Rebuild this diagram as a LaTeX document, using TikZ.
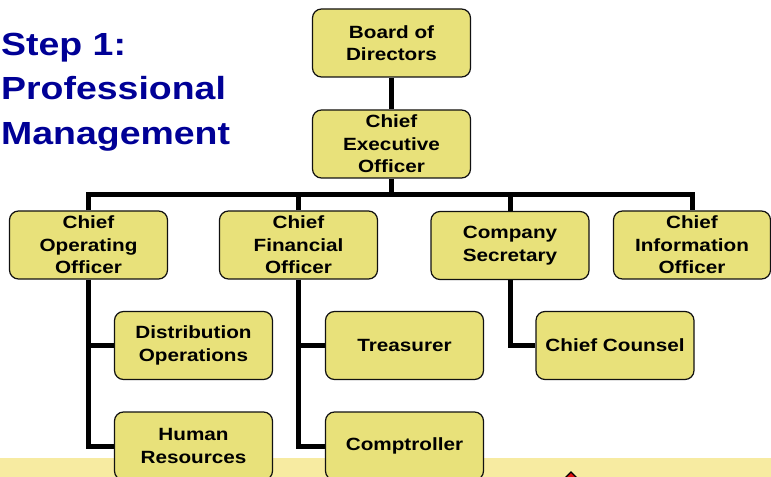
\documentclass[tikz,border=0pt]{standalone}
\usepackage{fontspec}
\setmainfont{Liberation Sans}[FakeStretch=1.17]
\usepackage{tikz}
\usetikzlibrary{calc,backgrounds}
\definecolor{Navy}{HTML}{000096}
\definecolor{Post}{HTML}{E8E17A}
\definecolor{Band}{HTML}{F7EBA1}
\definecolor{Ink}{HTML}{111111}
\definecolor{Alarm}{HTML}{E01010}

\begin{document}
\begin{tikzpicture}[x=1bp,y=-1bp,
  post/.style={draw=Ink,line width=1.2bp,fill=Post,rounded corners=9bp,
    minimum width=158bp,minimum height=68bp,inner sep=0pt,align=center,
    font=\bfseries\fontsize{17.7bp}{22.5bp}\selectfont},
  link/.style={line width=5bp,black}]
\useasboundingbox (0,0) rectangle (771,477);
\clip (0,0) rectangle (771,477);

\node[anchor=north west,inner sep=0pt,align=left,Navy,
  font=\bfseries\fontsize{32bp}{44.5bp}\selectfont] (heading) at (1,32.5)
  {Step 1:\\Professional\\Management};

% Posts.
\node[post] (board) at (391.5,43) {Board of\\Directors};
\node[post] (ceo) at (391.5,144) {Chief\\Executive\\Officer};
\node[post] (coo) at (88.5,245) {Chief\\Operating\\Officer};
\node[post] (cfo) at (298.5,245) {Chief\\Financial\\Officer};
\node[post] (sec) at (510,245.5) {Company\\Secretary};
\node[post,minimum width=157bp] (cio) at (692,245) {Chief\\Information\\Officer};
\node[post] (dist) at (193.5,345.5) {Distribution\\Operations};
\node[post] (treas) at (404.5,345.5) {Treasurer};
\node[post] (counsel) at (615,345.5) {Chief Counsel};
\node[post] (hr) at (193.5,446) {Human\\Resources};
\node[post] (comp) at (404.5,446) {Comptroller};

\coordinate (bar) at (391.5,195);

\begin{scope}[on background layer]
  % Footer strip and its marker.
  \fill[Band] (0,458) rectangle (771,477);
  \draw[fill=Alarm,line width=1.2bp] (571,472)--(585,486)--(571,500)--(557,486)--cycle;

  % Reporting lines.
  \draw[link] (board)--(ceo);
  \draw[link] (ceo)--(bar);
  \draw[link] (coo) |- (bar) -| (cio);
  \draw[link] (cfo)--(cfo |- bar);
  \draw[link] (sec)--(sec |- bar);
  \draw[link] (coo) |- (dist);
  \draw[link] (coo) |- (hr);
  \draw[link] (cfo) |- (treas);
  \draw[link] (cfo) |- (comp);
  \draw[link] (sec) |- (counsel);
\end{scope}
\end{tikzpicture}
\end{document}
